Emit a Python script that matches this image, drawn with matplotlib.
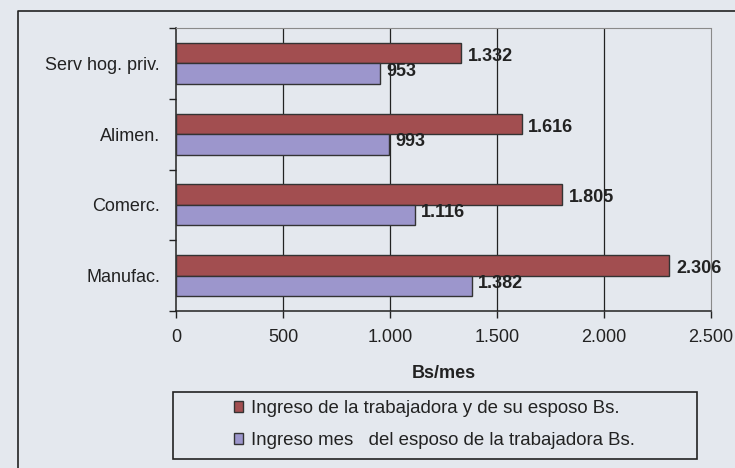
import numpy as np
import matplotlib
matplotlib.use("Agg")
import matplotlib.pyplot as plt
from matplotlib.patches import Patch, Rectangle
from matplotlib.lines import Line2D

# data
categories = ["Serv hog. priv.", "Alimen.", "Comerc.", "Manufac."]
ingreso_pareja = [1332, 1616, 1805, 2306]
ingreso_esposo = [953, 993, 1116, 1382]
x_ticks = [0, 500, 1000, 1500, 2000, 2500]
x_tick_labels = ["0", "500", "1.000", "1.500", "2.000", "2.500"]
legend_labels = ["Ingreso de la trabajadora y de su esposo Bs.",
                 "Ingreso mes   del esposo de la trabajadora Bs."]

plt.rcParams['font.family'] = ['Liberation Sans', 'DejaVu Sans']

paper = '#E4E8EE'
red = '#A24E50'
blue = '#9C96CC'
ink = '#222222'

W, H = 735, 468
fig = plt.figure(figsize=(W / 100, H / 100), dpi=100, facecolor=paper)

# plot area in pixel coords: left 176, right 711, top 28, bottom 311
ax = fig.add_axes([176 / W, 1 - 311 / H, (711 - 176) / W, (311 - 28) / H])
ax.set_facecolor(paper)

y = np.arange(len(categories))
h = 0.29
ax.barh(y - h / 2, ingreso_pareja, height=h, color=red, edgecolor='#333333', linewidth=1, zorder=3)
ax.barh(y + h / 2, ingreso_esposo, height=h, color=blue, edgecolor='#333333', linewidth=1, zorder=3)

def fmt(v):
    return f"{v:,}".replace(",", ".")

for i in range(len(categories)):
    ax.text(ingreso_pareja[i] + 30, y[i] - 0.1, fmt(ingreso_pareja[i]), fontsize=13,
            fontweight='bold', color=ink, va='center', ha='left', zorder=4)
    ax.text(ingreso_esposo[i] + 30, y[i] + 0.11, fmt(ingreso_esposo[i]), fontsize=13,
            fontweight='bold', color=ink, va='center', ha='left', zorder=4)

ax.set_xlim(0, 2500)
ax.set_ylim(3.5, -0.5)

ax.set_xticks(x_ticks)
ax.set_xticklabels(x_tick_labels, fontsize=13, color=ink)
ax.tick_params(axis='x', direction='out', length=5, width=1, pad=8, color='#222222')

# y ticks at category boundaries, labels on minor ticks at category centres
ax.set_yticks(np.arange(-0.5, len(categories), 1.0))
ax.set_yticklabels([])
ax.set_yticks(y, minor=True)
ax.set_yticklabels(categories, minor=True, fontsize=13, color=ink)
ax.tick_params(axis='y', which='major', direction='out', length=5, width=1, color='#222222')
ax.tick_params(axis='y', which='minor', length=0, pad=11.5)

for xv in x_ticks[1:-1]:
    ax.axvline(xv, color='#222222', linewidth=0.9, zorder=1)

for s in ['left', 'bottom']:
    ax.spines[s].set_color('#222222')
    ax.spines[s].set_linewidth(1.1)
for s in ['top', 'right']:
    ax.spines[s].set_color('#8a8a8a')
    ax.spines[s].set_linewidth(0.8)
    ax.spines[s].set_linestyle((0, (2, 1)))

ax.set_xlabel("Bs/mes", fontsize=13, fontweight='bold', color=ink, labelpad=14)

# outer chart frame (left and top edges visible in the scan)
fig.add_artist(Line2D([18 / W, 18 / W, 1.0], [0.0, 1 - 11 / H, 1 - 11 / H],
                      transform=fig.transFigure, color='#222222', linewidth=1.2))

# legend box
fig.add_artist(Rectangle((173 / W, 1 - 459 / H), (697 - 173) / W, (459 - 392) / H,
                         transform=fig.transFigure, facecolor='none',
                         edgecolor='#222222', linewidth=1.2))
handles = [Patch(facecolor=red, edgecolor='#333333'), Patch(facecolor=blue, edgecolor='#333333')]
fig.legend(handles, legend_labels, loc='upper left', bbox_to_anchor=(234 / W, 1 - 400 / H),
           frameon=False, fontsize=13.4, handlelength=0.5, handleheight=0.5,
           handletextpad=0.4, labelspacing=0.8, borderpad=0, borderaxespad=0,
           labelcolor=ink)

fig.savefig("out.png", dpi=100, facecolor=paper)
